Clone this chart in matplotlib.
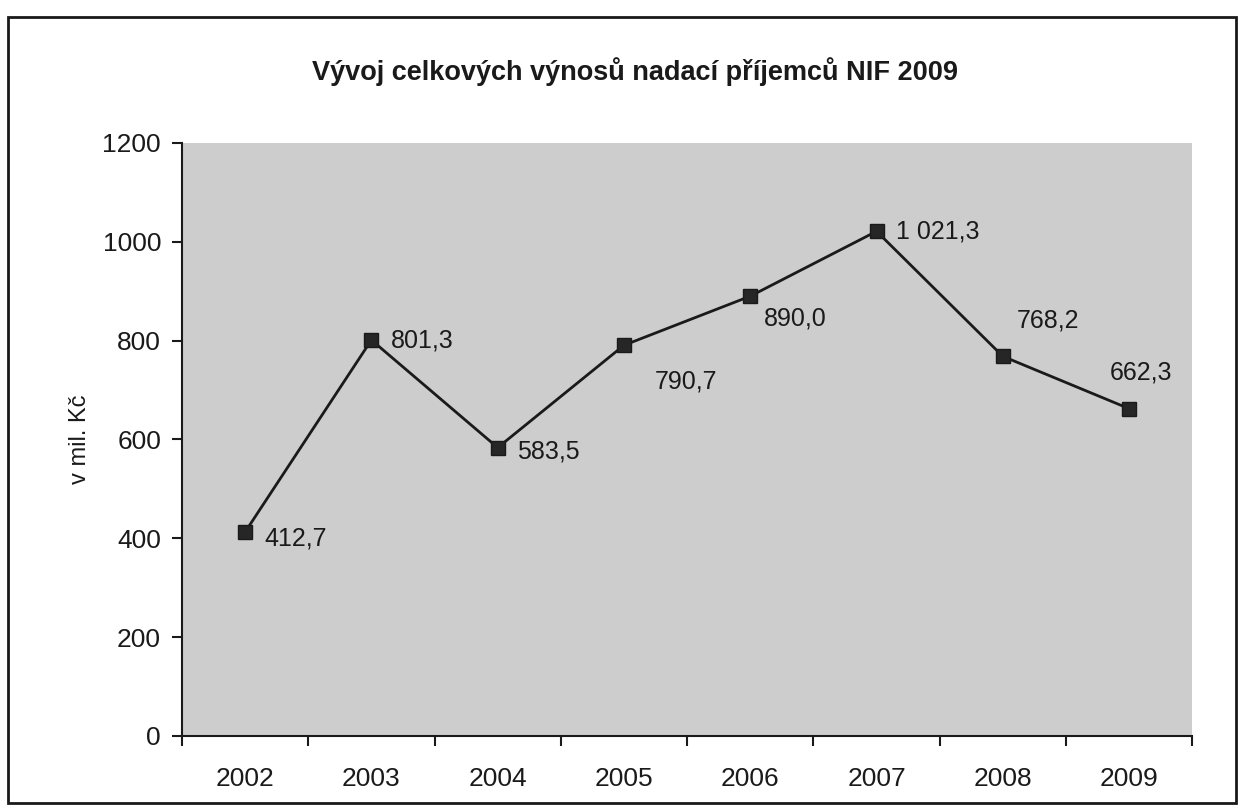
import matplotlib
matplotlib.use("Agg")
import matplotlib.pyplot as plt
from matplotlib.patches import Rectangle

years = ["2002", "2003", "2004", "2005", "2006", "2007", "2008", "2009"]
values = [412.7, 801.3, 583.5, 790.7, 890.0, 1021.3, 768.2, 662.3]
value_labels = ["412,7", "801,3", "583,5", "790,7", "890,0", "1 021,3", "768,2", "662,3"]
y_ticks = [0, 200, 400, 600, 800, 1000, 1200]

title = "Vývoj celkových výnosů nadací příjemců NIF 2009"
ylabel = "v mil. Kč"

# label offsets (points) relative to each marker
label_offsets = [(14, -5), (14, 0), (14, -3), (22, -26), (10, -16), (14, 0), (10, 26), (-14, 26)]

plt.rcParams['font.family'] = ['Liberation Sans', 'DejaVu Sans']

fig = plt.figure(figsize=(12.42, 8.11), dpi=100)
fig.patch.set_facecolor("white")
ax = fig.add_axes([0.1465, 0.0925, 0.8135, 0.7312])
ax.set_facecolor("#cdcdcd")

x = list(range(len(years)))
ax.plot(x, values, color="#1a1a1a", lw=2.0, marker="s", markersize=9.5,
        markerfacecolor="#262626", markeredgecolor="#1a1a1a", zorder=3)

for xi, v, lab, off in zip(x, values, value_labels, label_offsets):
    ax.annotate(lab, (xi, v), xytext=off, textcoords="offset points",
                ha="left", va="center", fontsize=18, color="#1a1a1a")

ax.set_xlim(-0.5, len(years) - 0.5)
ax.set_ylim(0, 1200)
ax.set_yticks(y_ticks)
ax.set_yticklabels([str(t) for t in y_ticks])
ax.set_xticks(x)
ax.set_xticklabels(years)
ax.set_xticks([i - 0.5 for i in range(len(years) + 1)], minor=True)

ax.tick_params(axis="x", which="major", length=0, pad=22, labelsize=19, colors="#1a1a1a")
ax.tick_params(axis="x", which="minor", length=7, width=1.5, direction="out", color="#1a1a1a")
ax.tick_params(axis="y", which="major", length=7, width=1.5, direction="out", pad=8,
               labelsize=19, colors="#1a1a1a")

for s in ["top", "right"]:
    ax.spines[s].set_visible(False)
for s in ["left", "bottom"]:
    ax.spines[s].set_color("#1a1a1a")
    ax.spines[s].set_linewidth(1.5)

ax.set_ylabel(ylabel, fontsize=17, color="#1a1a1a", labelpad=8)

fig.text(0.511, 0.912, title, ha="center", va="center", fontsize=19.5,
         fontweight="bold", color="#1a1a1a")

# outer chart frame
fig.patches.append(Rectangle((8 / 1242, 1 - 803 / 811), 1228 / 1242, 786 / 811,
                             transform=fig.transFigure, fill=False,
                             edgecolor="#1a1a1a", lw=2))

fig.savefig("out.png", dpi=100)
